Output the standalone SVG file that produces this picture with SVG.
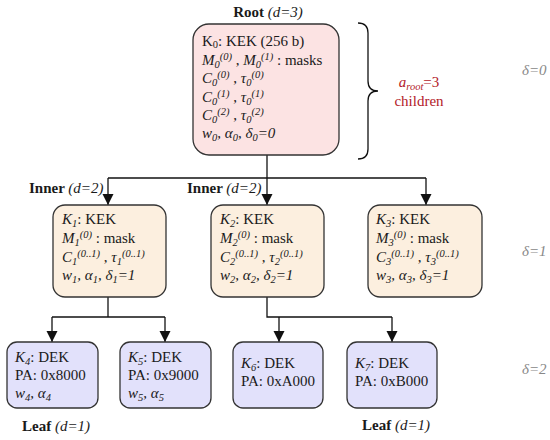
<svg xmlns="http://www.w3.org/2000/svg" width="550" height="440" viewBox="0 0 550 440" font-family="'Liberation Serif', 'DejaVu Serif', serif">
<defs>
<marker id="ah" markerWidth="11" markerHeight="12" refX="11" refY="5.5" orient="auto" markerUnits="userSpaceOnUse">
<path d="M0,0 L11,5.5 L0,11 Z" fill="#111"/>
</marker>
<style>
text{font-family:'Liberation Serif','DejaVu Serif',serif}
.t{font-size:15px;fill:#1a1a1a}
.i{font-style:italic}
.b{font-weight:bold}
.s{font-size:10.5px}
.box{stroke:#333;stroke-width:1.3}
.root{fill:#fce3e3}
.inner{fill:#fcefdf}
.leaf{fill:#e2e1fb}
.c{fill:none;stroke:#111;stroke-width:1.3}
.g{fill:#888;font-style:italic}
.r{fill:#b3202a}
</style>
</defs>
<rect width="550" height="440" fill="#fff"/>

<g id="connectors">
<polyline class="c" points="267,155 267,178"/>
<polyline class="c" points="108,178 426,178"/>
<line class="c" x1="108" y1="178" x2="108" y2="205" marker-end="url(#ah)"/>
<line class="c" x1="267" y1="178" x2="267" y2="205" marker-end="url(#ah)"/>
<line class="c" x1="426" y1="178" x2="426" y2="205" marker-end="url(#ah)"/>
<polyline class="c" points="108,297 108,317"/>
<polyline class="c" points="52,317 165,317"/>
<line class="c" x1="52" y1="317" x2="52" y2="342" marker-end="url(#ah)"/>
<line class="c" x1="165" y1="317" x2="165" y2="342" marker-end="url(#ah)"/>
<polyline class="c" points="267,297 267,317 392,317"/>
<line class="c" x1="279" y1="317" x2="279" y2="342" marker-end="url(#ah)"/>
<line class="c" x1="392" y1="317" x2="392" y2="342" marker-end="url(#ah)"/>
<path class="c" d="M358,23 Q368,23 368,33 L368,81 Q368,91 378,91 Q368,91 368,101 L368,149 Q368,159 358,159"/>
</g>

<g id="root">
<text class="t" x="268" y="17" text-anchor="middle"><tspan class="b">Root </tspan><tspan class="i">(d=3)</tspan></text>
<rect class="box root" x="193" y="24" width="146" height="131" rx="16"/>
<text class="t" x="202" y="46">K<tspan class="s" dy="2">0</tspan><tspan dy="-2">: KEK (256 b)</tspan></text>
<text class="t" x="202" y="65"><tspan class="i">M</tspan><tspan class="s i" dy="3">0</tspan><tspan class="s i" dy="-8">(0)</tspan><tspan dy="5"> , </tspan><tspan class="i">M</tspan><tspan class="s i" dy="3">0</tspan><tspan class="s i" dy="-8">(1)</tspan><tspan dy="5"> : masks</tspan></text>
<text class="t" x="202" y="83"><tspan class="i">C</tspan><tspan class="s i" dy="3">0</tspan><tspan class="s i" dy="-8">(0)</tspan><tspan dy="5"> , </tspan><tspan class="i">τ</tspan><tspan class="s i" dy="3">0</tspan><tspan class="s i" dy="-8">(0)</tspan></text>
<text class="t" x="202" y="102"><tspan class="i">C</tspan><tspan class="s i" dy="3">0</tspan><tspan class="s i" dy="-8">(1)</tspan><tspan dy="5"> , </tspan><tspan class="i">τ</tspan><tspan class="s i" dy="3">0</tspan><tspan class="s i" dy="-8">(1)</tspan></text>
<text class="t" x="202" y="120"><tspan class="i">C</tspan><tspan class="s i" dy="3">0</tspan><tspan class="s i" dy="-8">(2)</tspan><tspan dy="5"> , </tspan><tspan class="i">τ</tspan><tspan class="s i" dy="3">0</tspan><tspan class="s i" dy="-8">(2)</tspan></text>
<text class="t i" x="202" y="138">w<tspan class="s" dy="3">0</tspan><tspan dy="-3">, α</tspan><tspan class="s" dy="3">0</tspan><tspan dy="-3">, δ</tspan><tspan class="s" dy="3">0</tspan><tspan dy="-3">=0</tspan></text>
</g>

<g id="annotation">
<text class="t r" x="419" y="87" text-anchor="middle"><tspan class="i">a</tspan><tspan class="s i" dy="3">root</tspan><tspan dy="-3">=3</tspan></text>
<text class="t r" x="419" y="106" text-anchor="middle">children</text>
<text class="t g" x="522" y="75">δ=0</text>
<text class="t g" x="522" y="256">δ=1</text>
<text class="t g" x="522" y="374">δ=2</text>
</g>

<g id="inner1">
<text class="t" x="29" y="193"><tspan class="b">Inner </tspan><tspan class="i">(d=2)</tspan></text>
<rect class="box inner" x="53" y="205" width="113" height="92" rx="12"/>
<text class="t" x="62" y="224"><tspan class="i">K</tspan><tspan class="s i" dy="3">1</tspan><tspan dy="-3">: KEK</tspan></text>
<text class="t" x="62" y="243"><tspan class="i">M</tspan><tspan class="s i" dy="3">1</tspan><tspan class="s i" dy="-8">(0)</tspan><tspan dy="5"> : mask</tspan></text>
<text class="t" x="62" y="262"><tspan class="i">C</tspan><tspan class="s i" dy="3">1</tspan><tspan class="s i" dy="-8">(0..1)</tspan><tspan dy="5"> , </tspan><tspan class="i">τ</tspan><tspan class="s i" dy="3">1</tspan><tspan class="s i" dy="-8">(0..1)</tspan></text>
<text class="t i" x="62" y="280">w<tspan class="s" dy="3">1</tspan><tspan dy="-3">, α</tspan><tspan class="s" dy="3">1</tspan><tspan dy="-3">, δ</tspan><tspan class="s" dy="3">1</tspan><tspan dy="-3">=1</tspan></text>
</g>

<g id="inner2">
<text class="t" x="187" y="193"><tspan class="b">Inner </tspan><tspan class="i">(d=2)</tspan></text>
<rect class="box inner" x="211" y="205" width="113" height="92" rx="12"/>
<text class="t" x="220" y="224"><tspan class="i">K</tspan><tspan class="s i" dy="3">2</tspan><tspan dy="-3">: KEK</tspan></text>
<text class="t" x="220" y="243"><tspan class="i">M</tspan><tspan class="s i" dy="3">2</tspan><tspan class="s i" dy="-8">(0)</tspan><tspan dy="5"> : mask</tspan></text>
<text class="t" x="220" y="262"><tspan class="i">C</tspan><tspan class="s i" dy="3">2</tspan><tspan class="s i" dy="-8">(0..1)</tspan><tspan dy="5"> , </tspan><tspan class="i">τ</tspan><tspan class="s i" dy="3">2</tspan><tspan class="s i" dy="-8">(0..1)</tspan></text>
<text class="t i" x="220" y="280">w<tspan class="s" dy="3">2</tspan><tspan dy="-3">, α</tspan><tspan class="s" dy="3">2</tspan><tspan dy="-3">, δ</tspan><tspan class="s" dy="3">2</tspan><tspan dy="-3">=1</tspan></text>
</g>

<g id="inner3">
<rect class="box inner" x="368" y="205" width="114" height="92" rx="12"/>
<text class="t" x="376" y="224"><tspan class="i">K</tspan><tspan class="s i" dy="3">3</tspan><tspan dy="-3">: KEK</tspan></text>
<text class="t" x="376" y="243"><tspan class="i">M</tspan><tspan class="s i" dy="3">3</tspan><tspan class="s i" dy="-8">(0)</tspan><tspan dy="5"> : mask</tspan></text>
<text class="t" x="376" y="262"><tspan class="i">C</tspan><tspan class="s i" dy="3">3</tspan><tspan class="s i" dy="-8">(0..1)</tspan><tspan dy="5"> , </tspan><tspan class="i">τ</tspan><tspan class="s i" dy="3">3</tspan><tspan class="s i" dy="-8">(0..1)</tspan></text>
<text class="t i" x="376" y="280">w<tspan class="s" dy="3">3</tspan><tspan dy="-3">, α</tspan><tspan class="s" dy="3">3</tspan><tspan dy="-3">, δ</tspan><tspan class="s" dy="3">3</tspan><tspan dy="-3">=1</tspan></text>
</g>

<g id="leaf4">
<rect class="box leaf" x="7" y="342" width="91" height="66" rx="10"/>
<text class="t" x="15" y="362"><tspan class="i">K</tspan><tspan class="s i" dy="3">4</tspan><tspan dy="-3">: DEK</tspan></text>
<text class="t" x="15" y="380">PA: 0x8000</text>
<text class="t i" x="15" y="398">w<tspan class="s" dy="3">4</tspan><tspan dy="-3">, α</tspan><tspan class="s" dy="3">4</tspan></text>
</g>

<g id="leaf5">
<rect class="box leaf" x="120" y="342" width="91" height="66" rx="10"/>
<text class="t" x="128" y="362"><tspan class="i">K</tspan><tspan class="s i" dy="3">5</tspan><tspan dy="-3">: DEK</tspan></text>
<text class="t" x="128" y="380">PA: 0x9000</text>
<text class="t i" x="128" y="398">w<tspan class="s" dy="3">5</tspan><tspan dy="-3">, α</tspan><tspan class="s" dy="3">5</tspan></text>
</g>

<g id="leaf6">
<rect class="box leaf" x="233" y="342" width="90" height="66" rx="10"/>
<text class="t" x="241" y="368"><tspan class="i">K</tspan><tspan class="s i" dy="3">6</tspan><tspan dy="-3">: DEK</tspan></text>
<text class="t" x="241" y="386">PA: 0xA000</text>
</g>

<g id="leaf7">
<rect class="box leaf" x="347" y="342" width="90" height="66" rx="10"/>
<text class="t" x="355" y="368"><tspan class="i">K</tspan><tspan class="s i" dy="3">7</tspan><tspan dy="-3">: DEK</tspan></text>
<text class="t" x="355" y="386">PA: 0xB000</text>
</g>

<g id="leaf-labels">
<text class="t" x="22" y="431"><tspan class="b">Leaf </tspan><tspan class="i">(d=1)</tspan></text>
<text class="t" x="362" y="430"><tspan class="b">Leaf </tspan><tspan class="i">(d=1)</tspan></text>
</g>
</svg>
